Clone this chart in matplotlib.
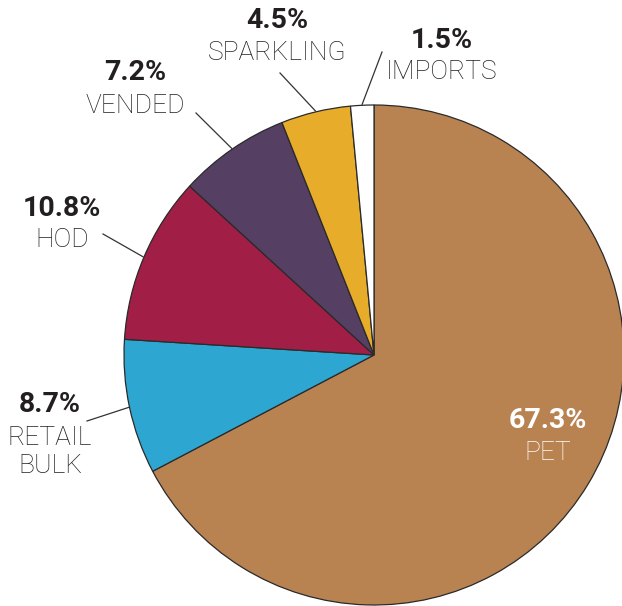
import matplotlib
matplotlib.use("Agg")
import matplotlib.pyplot as plt
from matplotlib import font_manager as fm
import numpy as np

categories = ["PET", "RETAIL\nBULK", "HOD", "VENDED", "SPARKLING", "IMPORTS"]
values = [67.3, 8.7, 10.8, 7.2, 4.5, 1.5]
pct_labels = ["67.3%", "8.7%", "10.8%", "7.2%", "4.5%", "1.5%"]
colors = ["#B98351", "#2EA6D2", "#A11E47", "#553F63", "#E6AC2A", "#FFFFFF"]

names = {f.name for f in fm.fontManager.ttflist}
bold_family = "Liberation Sans Narrow" if "Liberation Sans Narrow" in names else "Roboto"
light_family = "Roboto" if "Roboto" in names else "Liberation Sans"

W, H = 622, 606
fig = plt.figure(figsize=(W / 100, H / 100), dpi=100)
ax = fig.add_axes([0, 0, 1, 1])
ax.set_xlim(0, W)
ax.set_ylim(0, H)
ax.set_aspect("equal")
ax.axis("off")

cx, cy, R = 374, H - 355, 250
wedges, _ = ax.pie(values, colors=colors, startangle=90, counterclock=False,
                   center=(cx, cy), radius=R, frame=True,
                   wedgeprops=dict(edgecolor="#2a2a2a", linewidth=0.9))
ax.set_xlim(0, W)
ax.set_ylim(0, H)
ax.axis("off")

# label layout: (x center, pct y, name y, leader outer point)
layout = {
    1: dict(x=50, py=405, ny=452, line=(87, 421)),
    2: dict(x=62, py=208, ny=240, line=(103, 234)),
    3: dict(x=135, py=73, ny=106, line=(196, 113)),
    4: dict(x=277, py=20, ny=53, line=(280, 73)),
    5: dict(x=442, py=40, ny=72, line=(382, 52)),
}

PCT_SIZE = 20.5
NAME_SIZE = 19

for i, w in enumerate(wedges):
    mid = np.deg2rad((w.theta1 + w.theta2) / 2)
    if i == 0:
        tc = "white"
        ax.text(548, H - 420, pct_labels[i], ha="center", va="center", color=tc,
                fontsize=PCT_SIZE, fontweight="bold", family=bold_family)
        ax.text(548, H - 453, categories[i], ha="center", va="center", color=tc,
                fontsize=NAME_SIZE, fontweight="light", family=light_family)
        continue
    L = layout[i]
    ax.text(L["x"], H - L["py"], pct_labels[i], ha="center", va="center", color="#231f20",
            fontsize=PCT_SIZE, fontweight="bold", family=bold_family)
    ax.text(L["x"], H - L["ny"], categories[i], ha="center", va="center", color="#231f20",
            fontsize=NAME_SIZE, fontweight="light", family=light_family, linespacing=1.2)
    ex, ey = cx + (R + 1) * np.cos(mid), cy + (R + 1) * np.sin(mid)
    ox, oy = L["line"]
    ax.plot([ox, ex], [H - oy, ey], color="#333333", linewidth=0.9)

fig.savefig("out.png", dpi=100)
